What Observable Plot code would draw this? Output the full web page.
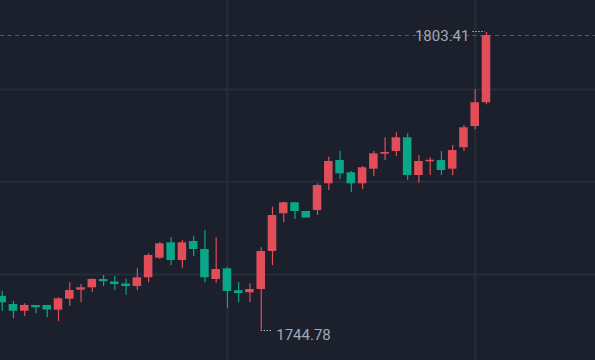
<!DOCTYPE html>
<html>
<head>
<meta charset="utf-8">
<script src="https://cdn.jsdelivr.net/npm/d3@7"></script>
<script src="https://cdn.jsdelivr.net/npm/@observablehq/plot@0.6"></script>
<style>
  html, body { margin: 0; padding: 0; background: #1b202c; overflow: hidden; }
  #chart { width: 595px; height: 360px; }
</style>
</head>
<body>
<div id="chart"></div>
<script>
const opens = [1751.38,1749.80,1748.48,1749.61,1749.61,1748.68,1750.85,1752.62,1753.10,1754.73,1754.08,1753.69,1753.35,1755.07,1758.93,1761.96,1758.48,1762.22,1760.64,1754.73,1756.84,1752.37,1752.11,1752.76,1760.25,1767.68,1769.85,1768.13,1768.33,1773.59,1778.18,1775.76,1773.59,1776.47,1779.43,1779.96,1782.66,1775.23,1777.93,1778.18,1776.47,1780.69,1784.88,1789.56];
const closes = [1750.14,1748.48,1749.61,1749.15,1748.72,1750.93,1752.56,1753.10,1754.73,1754.28,1753.88,1753.49,1755.07,1759.46,1761.77,1758.48,1761.96,1760.64,1755.07,1756.70,1752.37,1752.11,1752.76,1760.25,1767.34,1769.85,1768.13,1766.85,1773.26,1777.99,1775.56,1773.59,1776.75,1779.50,1779.76,1782.66,1775.23,1777.99,1778.24,1776.21,1780.15,1784.63,1789.56,1802.82];
const highs = [1752.43,1750.45,1749.94,1749.61,1749.61,1751.12,1754.08,1753.75,1754.87,1755.52,1755.32,1754.79,1756.84,1759.80,1762.08,1762.95,1762.42,1763.26,1764.39,1762.95,1757.16,1754.08,1753.88,1760.98,1768.98,1769.97,1769.85,1768.13,1773.59,1778.83,1779.96,1776.02,1777.00,1779.96,1782.66,1783.64,1783.45,1779.17,1778.72,1779.96,1781.14,1785.08,1792.18,1803.41];
const lows = [1748.48,1746.99,1747.44,1747.97,1747.18,1746.45,1749.47,1750.14,1752.17,1753.35,1752.56,1751.64,1752.56,1754.08,1758.67,1757.49,1756.96,1759.26,1754.08,1754.00,1748.96,1750.14,1750.14,1744.78,1757.49,1765.91,1766.56,1766.85,1767.34,1772.27,1774.44,1771.82,1772.47,1775.03,1778.18,1778.97,1774.24,1773.71,1775.23,1775.23,1775.23,1779.96,1784.23,1789.16];
const gridPrices = [1755.72, 1773.99, 1792.18];
const gridCandles = [20, 42];

const UP = "#e14d59", DOWN = "#0aa688";
const candles = opens.map((o, i) => ({i, o, c: closes[i], h: highs[i], l: lows[i]}));
const hiIdx = d3.maxIndex(highs), loIdx = d3.minIndex(lows);
const hi = {i: hiIdx, p: highs[hiIdx]};
const lo = {i: loIdx, p: lows[loIdx]};
const last = candles[candles.length - 1];
const col = d => d.c >= d.o ? UP : DOWN;
const bodyTop = d => Math.max(d.o, d.c) + (Math.abs(d.o - d.c) < 0.3 ? 0.15 : 0);
const bodyBot = d => Math.min(d.o, d.c) - (Math.abs(d.o - d.c) < 0.3 ? 0.15 : 0);

const chart = Plot.plot({
  width: 595,
  height: 360,
  margin: 0,
  style: {background: "#1b202c", fontFamily: "Roboto, 'Noto Sans', sans-serif"},
  x: {type: "linear", domain: [-0.151, 52.68], axis: null},
  y: {type: "linear", domain: [1738.766, 1809.717], axis: null},
  marks: [
    Plot.ruleY(gridPrices, {stroke: "#262d3a", strokeWidth: 2}),
    Plot.ruleX(gridCandles, {stroke: "#262d3a", strokeWidth: 2}),
    Plot.ruleY([last.c], {stroke: "#a3485a", strokeOpacity: 0.85, strokeWidth: 1, strokeDasharray: "4,3.5"}),
    Plot.ruleX(candles, {x: "i", y1: "l", y2: "h", stroke: col, strokeWidth: 1.2}),
    Plot.rect(candles, {x1: d => d.i - 0.38, x2: d => d.i + 0.38, y1: bodyBot, y2: bodyTop, fill: col}),
    Plot.ruleY([hi], {y: "p", x1: d => d.i - 1.2, x2: d => d.i - 0.1, dy: -1, stroke: "#d0d4dc", strokeWidth: 1, strokeDasharray: "1.2,1.8"}),
    Plot.ruleY([lo], {y: "p", x1: d => d.i, x2: d => d.i + 1.05, dy: 0.5, stroke: "#d0d4dc", strokeWidth: 1, strokeDasharray: "1.2,1.8"}),
    Plot.text([hi], {x: "i", y: "p", text: d => d.p.toFixed(2), textAnchor: "end", lineAnchor: "middle", dx: -17, dy: 4, fill: "#a3a8b2", fontSize: 15}),
    Plot.text([lo], {x: "i", y: "p", text: d => d.p.toFixed(2), textAnchor: "start", lineAnchor: "middle", dx: 15, dy: 5.5, fill: "#a3a8b2", fontSize: 15})
  ]
});
document.getElementById("chart").appendChild(chart);
</script>
</body>
</html>
